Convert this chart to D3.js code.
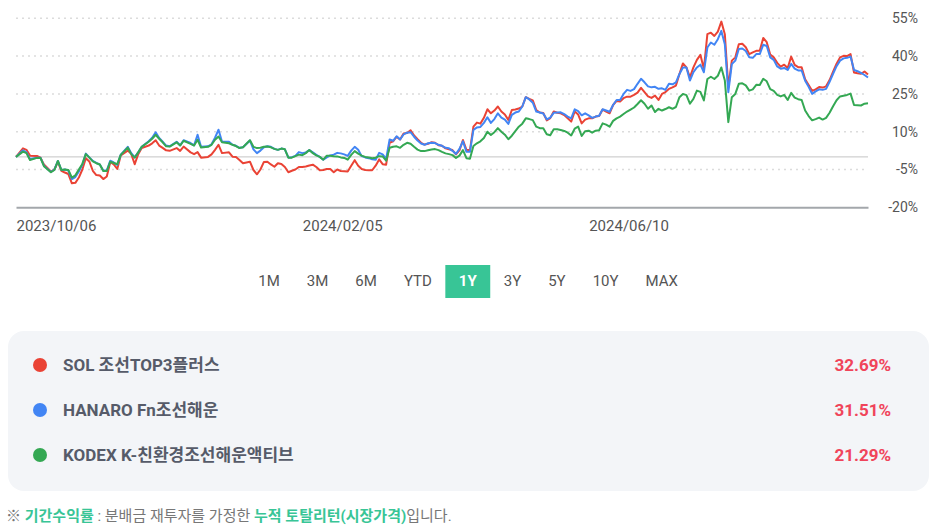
<!DOCTYPE html>
<html lang="ko">
<head>
    <meta charset="UTF-8">
    <title>기간수익률 비교</title>
    <script src="https://d3js.org/d3.v7.min.js"></script>
    <style>
        body { margin: 0; background: #fff; font-family: Roboto, "Noto Sans CJK KR", sans-serif; }
        svg { display: block; }
    </style>
</head>
<body>
    <svg id="chart" width="938" height="527"></svg>
    <script>
        // trading day index (0 = 2023/10/06)
        const days = [0,2,3,4,6,7,8,10,11,12,13,14,15,16,17,18,19,20,21,22,23,24,25,26,27,28,29,30,
            32,33,34,35,36,38,39,40,41,42,43,44,46,47,48,50,51,52,53,55,56,57,58,59,61,62,63,64,65,
            67,68,69,70,71,72,73,74,75,76,77,
            78,79,80,81,82,83,84,85,86,87,88,89,90,91,92,93,94,95,96,97,98,99,100,101,102,103,104,105,106,107,
            108,109,110,111,112,113,114,115,116,117,118,119,120,121,122,123,124,125,126,127,128,129,130,131,132,133,134,135,136,137,
            138,139,140,141,142,143,144,145,146,147,148,149,150,151,152,153,154,155,156,157,158,159,160,161,162,163,164,165,166,167,
            168,169,170,171,172,173,174,175,176,177,178,179,180,181,182,183,184,185,186,187,188,189,190,191,192,193,194,195,196,197,
            198,199,200,201,202,203,204,205,206,207,208,209,210,211,212,213,214,215,216,217,218,219,220,221,222,223,224,225,226,227,
            228,229,230,231,232,233,234,235,236,237,238,239,240,241,242,243,244];

        // cumulative total return, %
        const sol = [0,3.4,2.8,0.5,0.4,-0.3,-3.0,-5.8,-5.0,-2.0,-5.5,-6.2,-6.8,-10.5,-10.3,-8.2,-5.0,-0.5,-1.8,-5.5,-7.2,-7.4,-8.8,-7.8,-2.0,-3.0,-4.8,0.6,
            2.5,1.2,-2.9,1.1,3.5,4.5,5.4,6.6,4.5,3.6,2.6,2.4,3.5,2.4,4.1,1.8,1.1,1.9,-0.3,0,1.0,2.8,4.8,1.5,1.8,0.1,0.0,-1.2,-2.5,
            -1.9,-5.2,-6.9,-5.0,-2.0,-1.9,-3.0,-3.9,-2.5,-2.8,-4.0,
            -6.1,-5.5,-5.0,-4.0,-4.0,-3.8,-3.4,-3.1,-4.0,-5.3,-5.2,-4.8,-4.8,-6.1,-5.0,-5.6,-5.7,-5.8,-3.5,-1.3,
            -3.5,-4.8,-5.2,-5.3,-5.3,-3.5,-1.0,-2.9,-3.1,5.6,6.2,8.0,6.9,9.3,9.5,10.6,8.5,7.0,5.6,4.9,
            5.2,5.8,5.6,4.6,4.4,3.4,3.0,2.7,1.0,2.6,6.7,2.8,2.6,12.0,13.6,13.2,15.5,18.9,17.3,18.4,
            20.0,18.0,16.8,14.7,18.6,18.8,19.2,20.0,23.7,23.0,22.4,18.6,17.6,17.4,14.5,15.4,18.0,17.5,17.3,16.6,
            15.3,14.0,18.0,16.8,13.3,14.8,15.3,15.3,16.0,16.2,18.8,18.0,17.3,20.6,22.2,22.0,23.3,23.9,23.9,24.6,
            25.5,27.4,25.7,24.0,23.4,24.3,22.6,25.0,25.7,27.0,27.6,28.3,32.9,37.1,35.5,31.6,35.5,38.5,40.5,34.9,
            48.7,49.3,48.0,49.7,53.7,48.7,27.6,38.2,39.5,44.7,44.9,43.5,40.8,41.5,42.1,42.1,47.2,45.5,40.6,39.5,
            37.3,35.8,36.6,35.3,39.8,36.5,35.6,35.6,30.8,28.5,26.2,26.8,27.7,27.5,28.0,30.5,33.8,37.0,39.5,40.1,
            40.0,40.8,33.5,33.2,33.0,33.9,32.69];

        const hanaro = [0,2.6,1.8,-0.8,-0.3,-0.3,-3.5,-6.0,-5.0,-1.6,-5.2,-5.0,-5.4,-8.8,-8.0,-5.8,-3.0,1.3,-0.2,-1.6,-2.4,-3.0,-5.4,-5.4,-1.5,-2.2,-3.2,0.9,
            4.0,1.5,-0.2,1.8,4.0,6.2,7.6,9.8,7.5,6.0,4.5,4.2,6.0,4.6,6.6,5.5,4.6,8.8,4.0,4.2,5.0,7.6,10.8,6.0,6.0,4.8,4.4,3.6,3.8,
            6.5,3.0,1.5,2.5,3.8,4.2,4.0,3.2,2.8,3.3,3.0,
            -0.2,-0.1,0.4,1.9,1.5,1.8,2.7,1.8,0.8,0.0,-1.1,-0.2,0.6,0.9,1.6,1.4,1.0,0.4,2.5,4.0,
            2.8,0.3,-0.2,-0.5,-0.9,-1.1,1.6,1.0,-0.8,6.9,6.4,8.2,6.9,8.9,9.6,9.8,8.0,6.5,5.3,4.8,
            5.4,5.6,5.5,4.8,4.4,3.6,3.4,2.4,1.2,3.2,6.2,2.0,2.0,10.7,11.7,11.9,13.5,15.7,13.5,15.0,
            17.3,15.6,14.8,13.1,16.7,17.6,18.0,20.0,23.7,22.8,21.5,18.0,17.6,17.2,14.9,15.6,17.5,17.6,17.7,17.0,
            16.0,15.3,18.9,18.2,16.5,17.3,16.5,15.5,16.0,16.3,18.9,18.4,17.9,20.6,22.6,22.6,25.0,26.6,26.2,26.9,
            29.0,31.0,29.6,28.0,27.6,27.8,27.0,27.2,26.6,29.0,28.8,29.6,32.9,35.5,35.5,30.3,33.6,35.5,36.6,33.6,
            43.4,45.4,44.5,46.7,50.0,44.7,25.7,36.8,38.2,42.8,43.0,42.0,39.5,39.3,40.8,40.8,44.5,44.0,39.5,38.5,
            35.9,35.0,35.3,34.5,36.9,35.0,34.3,34.3,30.2,27.8,25.0,26.0,26.8,26.6,27.0,29.8,33.0,36.0,38.2,39.1,
            39.3,39.8,34.5,34.0,33.3,32.5,31.51];

        const kodex = [0,2.1,1.5,-1.2,-0.4,-0.4,-3.7,-6.1,-5.2,-1.6,-5.2,-5.0,-5.2,-8.2,-7.3,-5.0,-2.8,1.1,-0.3,-1.8,-2.5,-3.0,-5.6,-5.6,-1.9,-2.4,-2.9,0.8,
            3.7,1.1,-0.3,1.8,4.0,6.0,7.2,8.8,7.2,5.8,4.2,4.1,5.8,4.5,6.4,5.2,4.5,6.8,3.7,4.0,4.8,6.8,8.1,5.8,5.4,4.8,4.3,3.5,3.8,
            6.6,4.0,3.5,3.6,4.0,4.1,3.8,3.2,2.8,3.3,3.0,
            -0.3,-0.3,0.3,0.9,0.7,1.5,2.7,1.5,0.6,0.0,-1.1,0.5,0.5,0.3,0.2,-0.2,-0.4,-1.1,0.8,2.3,
            1.3,0.5,0.0,-0.2,-0.5,-0.3,0.3,0.2,-1.5,3.6,4.0,4.2,3.6,4.8,5.6,5.2,4.0,2.9,2.3,2.3,
            2.6,2.9,3.1,2.7,2.0,1.4,1.1,0.7,-0.4,0.5,2.7,-0.5,-0.7,4.3,5.4,6.2,7.5,10.0,8.7,9.8,
            11.4,10.0,8.8,7.0,8.4,10.2,12.0,13.2,15.3,15.0,14.6,12.0,11.4,11.4,9.0,8.6,11.0,11.0,10.7,10.3,
            9.6,8.5,11.2,12.0,8.3,10.2,10.4,9.6,10.4,10.6,13.3,12.8,12.0,14.3,15.3,16.0,17.0,18.0,18.8,19.6,
            21.0,22.5,21.1,19.1,20.4,17.8,19.1,18.4,19.0,19.7,19.1,19.8,23.7,25.0,24.5,21.1,23.0,26.3,25.8,22.4,
            30.9,31.8,30.9,32.2,35.5,30.3,13.8,23.7,25.0,29.0,29.2,28.4,26.3,26.8,28.6,28.5,31.0,30.0,26.9,26.2,
            24.6,24.0,24.6,22.6,25.4,23.5,22.9,22.6,18.4,16.2,14.5,15.0,15.6,14.8,15.5,17.5,20.1,22.5,24.0,24.3,
            24.6,25.1,20.6,20.5,20.4,21.1,21.29];

        const seriesNames = ["SOL 조선TOP3플러스", "HANARO Fn조선해운", "KODEX K-친환경조선해운액티브"];
        const seriesReturns = ["32.69%", "31.51%", "21.29%"];
        const seriesColors = ["#ea4335", "#4285f4", "#34a853"];

        const yTicks = [-20, -5, 10, 25, 40, 55];
        const tickDays = [0, 82, 164];
        const tickLabels = ["2023/10/06", "2024/02/05", "2024/06/10"];

        const periods = ["1M", "3M", "6M", "YTD", "1Y", "3Y", "5Y", "10Y", "MAX"];
        const activePeriod = "1Y";

        const svg = d3.select("#chart");
        const accent = "#38c596";

        // scales
        const x = d3.scaleLinear().domain([0, 244]).range([16, 868]);
        const y = d3.scaleLinear().domain([-20, 55]).range([207.3, 18.3]);

        // dotted grid
        svg.append("g")
            .selectAll("line")
            .data(yTicks.filter(d => d > -20))
          .enter().append("line")
            .attr("x1", 16).attr("x2", 868)
            .attr("y1", d => y(d)).attr("y2", d => y(d))
            .attr("stroke", "#dcdcdc")
            .attr("stroke-width", 1.5)
            .attr("stroke-dasharray", "2,4");

        // zero line
        svg.append("line")
            .attr("x1", 16).attr("x2", 868)
            .attr("y1", y(0)).attr("y2", y(0))
            .attr("stroke", "#c4c4c4")
            .attr("stroke-width", 1);

        // y axis labels on the right
        const yAxis = svg.append("g")
            .attr("transform", "translate(918,0)")
            .call(d3.axisRight(y).tickValues(yTicks).tickSize(0).tickFormat(d => d + "%"));
        yAxis.select(".domain").remove();
        yAxis.selectAll("text")
            .attr("x", 0)
            .attr("text-anchor", "end")
            .attr("fill", "#555")
            .style("font-size", "14px")
            .style("font-family", "Roboto, sans-serif");

        // x axis
        const xAxis = svg.append("g")
            .attr("transform", `translate(0,${y(-20)})`)
            .call(d3.axisBottom(x).tickValues(tickDays).tickSize(0).tickFormat((d, i) => tickLabels[i]));
        xAxis.select(".domain")
            .attr("stroke", "#a3a7ab")
            .attr("stroke-width", 2);
        xAxis.selectAll("text")
            .attr("y", 13)
            .attr("text-anchor", "start")
            .attr("fill", "#555")
            .style("font-size", "15px")
            .style("font-family", "Roboto, sans-serif");

        // lines
        const line = d3.line()
            .x((d, i) => x(days[i]))
            .y(d => y(d));

        [sol, hanaro, kodex].forEach((values, k) => {
            svg.append("path")
                .datum(values)
                .attr("fill", "none")
                .attr("stroke", seriesColors[k])
                .attr("stroke-width", 2)
                .attr("stroke-linejoin", "round")
                .attr("d", line);
        });

        // period buttons
        const btnGroup = svg.append("g").attr("font-size", "15px").attr("font-family", "Roboto, sans-serif");
        const pad = 13.5;
        let cx = 244.8;
        periods.forEach(p => {
            const active = p === activePeriod;
            const t = btnGroup.append("text").text(p)
                .attr("text-anchor", "middle")
                .attr("dominant-baseline", "central")
                .attr("y", 281)
                .attr("font-weight", active ? "bold" : "normal")
                .attr("fill", active ? "#fff" : "#555");
            const w = t.node().getComputedTextLength() + pad * 2;
            t.attr("x", cx + w / 2);
            if (active) {
                btnGroup.insert("rect", "text")
                    .attr("x", cx).attr("y", 265)
                    .attr("width", w).attr("height", 33)
                    .attr("fill", accent);
            }
            cx += w;
        });

        // legend panel
        svg.append("rect")
            .attr("x", 8).attr("y", 331)
            .attr("width", 921).attr("height", 160)
            .attr("rx", 16)
            .attr("fill", "#f3f5f8");

        const rows = svg.append("g")
            .selectAll("g")
            .data(seriesNames)
          .enter().append("g")
            .attr("transform", (d, i) => `translate(0,${365 + i * 45})`);

        rows.append("circle")
            .attr("cx", 40).attr("r", 7)
            .attr("fill", (d, i) => seriesColors[i]);

        rows.append("text")
            .attr("x", 63)
            .attr("dominant-baseline", "central")
            .attr("fill", "#565b69")
            .attr("font-weight", "bold")
            .attr("font-size", "17px")
            .text(d => d);

        rows.append("text")
            .attr("x", 891)
            .attr("text-anchor", "end")
            .attr("dominant-baseline", "central")
            .attr("fill", "#f0445a")
            .attr("font-weight", "bold")
            .attr("font-size", "17px")
            .text((d, i) => seriesReturns[i]);

        // footnote
        const note = svg.append("text")
            .attr("x", 6).attr("y", 521)
            .attr("font-size", "15px")
            .attr("fill", "#777");
        note.append("tspan").text("※ ");
        note.append("tspan").text("기간수익률").attr("fill", accent).attr("font-weight", "bold");
        note.append("tspan").text(" : 분배금 재투자를 가정한 ");
        note.append("tspan").text("누적 토탈리턴(시장가격)").attr("fill", accent).attr("font-weight", "bold");
        note.append("tspan").text("입니다.");
    </script>
</body>
</html>
